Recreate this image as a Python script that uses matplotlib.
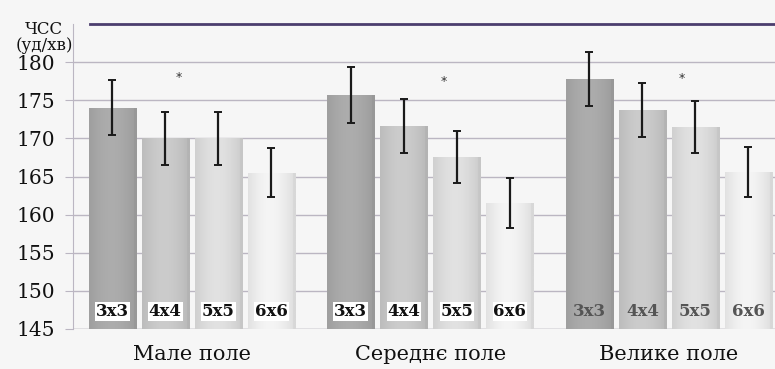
import matplotlib.pyplot as plt
import numpy as np
from matplotlib.colors import to_rgb

groups = ["Мале поле", "Середнє поле", "Велике поле"]
sizes = ["3x3", "4x4", "5x5", "6x6"]
hr_mean = [
    [174.0, 170.0, 170.0, 165.5],
    [175.7, 171.6, 167.6, 161.5],
    [177.8, 173.7, 171.5, 165.6],
]
hr_err = [
    [3.6, 3.5, 3.5, 3.2],
    [3.7, 3.5, 3.4, 3.3],
    [3.5, 3.5, 3.4, 3.3],
]
# position of the "*" mark in each group (in bar units from 3x3)
star_pos = [1.25, 1.75, 1.75]
star_y = [178.0, 177.5, 177.9]

bar_colors = ["#a9a9a9", "#c8c8c8", "#dddddd", "#f0f0f0"]
bg = "#f6f6f6"
serif = "DejaVu Serif"

fig = plt.figure(figsize=(7.75, 3.69), dpi=100, facecolor=bg)
ax = fig.add_axes([73 / 775, 1 - 329 / 369, 1 - 73 / 775, (329 - 24) / 369])
ax.set_facecolor(bg)

ymin, ymax = 145, 185
step = 4.5
width = 0.89

ax.set_yticks(range(145, 185, 5))
ax.set_yticklabels([str(v) for v in range(145, 185, 5)], fontfamily=serif, fontsize=14.5, color="#111111")
ax.yaxis.grid(True, color="#bbb6c2", linewidth=1.0)
ax.set_axisbelow(True)
ax.tick_params(axis="y", length=6, color="#bbb6c2", pad=7)
ax.tick_params(axis="x", length=0, labelbottom=False)
for s in ["top", "right", "bottom"]:
    ax.spines[s].set_visible(False)
ax.spines["left"].set_color("#bbb6c2")
ax.axhline(145, color="#bbb6c2", linewidth=1.0, zorder=0)
ax.axhline(185, xmin=0.024, color="#4b3d6e", linewidth=2.0, clip_on=False)

# cylinder-like horizontal shading
t = np.linspace(0, 1, 64)
shade = 0.94 + 0.08 * np.sin(np.pi * np.clip(t * 1.08, 0, 1)) - 0.04 * (t > 0.94)

for g in range(len(groups)):
    for i in range(len(sizes)):
        x = g * step + i
        v = hr_mean[g][i]
        rect = ax.bar(x, v - ymin, bottom=ymin, width=width, color=bar_colors[i],
                      edgecolor="none", zorder=2)[0]
        base = np.array(to_rgb(bar_colors[i]))
        img = np.clip(base[None, :] * shade[:, None], 0, 1)[None, :, :]
        im = ax.imshow(img, extent=(x - width / 2, x + width / 2, ymin, v),
                       aspect="auto", zorder=2.1, interpolation="bilinear")
        im.set_clip_path(rect)
        ax.errorbar(x, v, yerr=hr_err[g][i], fmt="none", ecolor="#1a1a1a",
                    elinewidth=1.6, capsize=3, capthick=1.4, zorder=4)
        if g < 2:
            ax.text(x, 147.3, sizes[i], ha="center", va="center", fontfamily=serif,
                    fontweight="bold", fontsize=12, color="#111111", zorder=5,
                    bbox=dict(facecolor="white", edgecolor="none", pad=0.6))
        else:
            ax.text(x, 147.3, sizes[i], ha="center", va="center", fontfamily=serif,
                    fontweight="bold", fontsize=12, color="#555555", zorder=5)
    ax.text(g * step + star_pos[g], star_y[g], "*", ha="center", va="center",
            fontsize=9, color="#333333", zorder=5)
    ax.text(g * step + 1.5, 141.7, groups[g], ha="center", va="center",
            fontfamily=serif, fontsize=15, color="#111111", clip_on=False)

fig.text(44 / 775, 1 - 54 / 369, "ЧСС\n(уд/хв)", ha="center", va="bottom",
         multialignment="center", linespacing=0.95, fontfamily=serif,
         fontsize=12, color="#111111")

ax.set_ylim(ymin, ymax)
ax.set_xlim(-0.74, 12.5)
fig.savefig("out.png", dpi=100, facecolor=bg)
